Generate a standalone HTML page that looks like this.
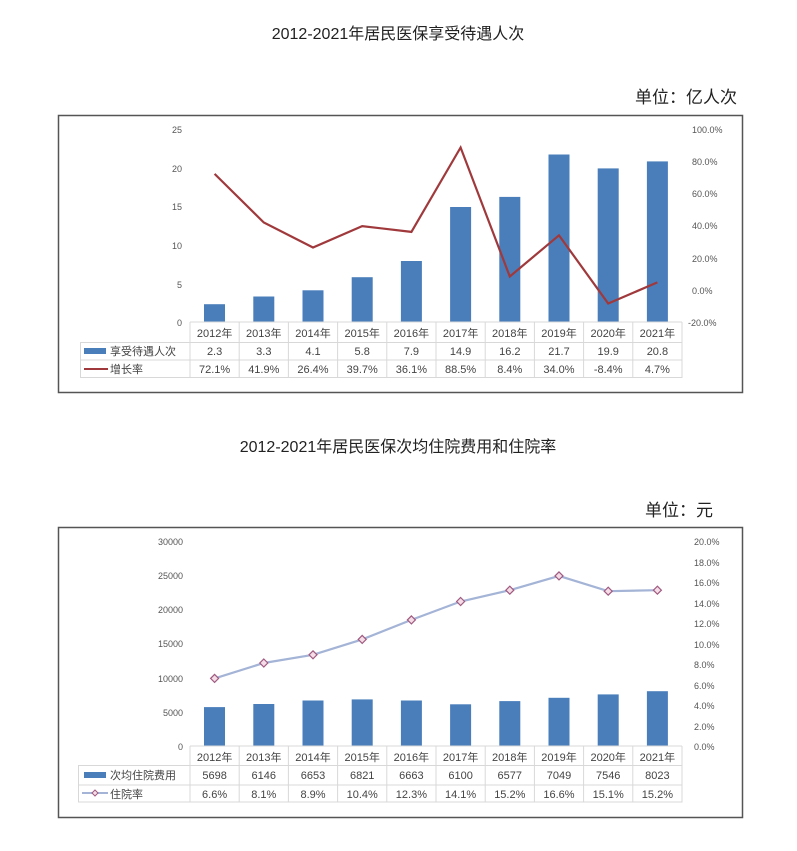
<!DOCTYPE html>
<html><head><meta charset="utf-8"><style>
body{margin:0;background:#fff;}
svg{display:block;font-family:"Liberation Sans","Noto Sans CJK SC",sans-serif;}
</style></head><body>
<svg width="797" height="851" viewBox="0 0 797 851">
<text x="398" y="39" font-size="16" text-anchor="middle" fill="#222">2012-2021年居民医保享受待遇人次</text>
<text x="737" y="103" font-size="17" text-anchor="end" fill="#222">单位：亿人次</text>
<rect x="58.5" y="115.5" width="684" height="277" fill="#fff" stroke="#555" stroke-width="1.5"/>
<g font-size="9" fill="#555" text-anchor="end">
<text x="182" y="133">25</text><text x="182" y="172">20</text><text x="182" y="210">15</text><text x="182" y="249">10</text><text x="182" y="288">5</text><text x="182" y="326">0</text>
</g>
<g font-size="9" fill="#555">
<text x="692" y="133">100.0%</text><text x="692" y="165">80.0%</text><text x="692" y="197">60.0%</text><text x="692" y="229">40.0%</text><text x="692" y="262">20.0%</text><text x="692" y="294">0.0%</text><text x="688" y="326">-20.0%</text>
</g>
<g fill="#4a7ebb">
<rect x="204" y="304.2" width="21" height="17.8"/><rect x="253.3" y="296.5" width="21" height="25.5"/><rect x="302.5" y="290.3" width="21" height="31.7"/><rect x="351.7" y="277.2" width="21" height="44.8"/><rect x="400.9" y="261" width="21" height="61"/><rect x="450.1" y="207" width="21" height="115"/><rect x="499.3" y="196.9" width="21" height="125.1"/><rect x="548.5" y="154.5" width="21" height="167.5"/><rect x="597.7" y="168.4" width="21" height="153.6"/><rect x="646.9" y="161.4" width="21" height="160.6"/>
</g>
<polyline fill="none" stroke="#a0393c" stroke-width="2.2" points="214.6,173.9 263.8,222.5 313,247.5 362.2,226.1 411.4,231.9 460.6,147.5 509.8,276.5 559,235.3 608.2,303.5 657.4,282.4"/>
<g stroke="#d8d8d8" stroke-width="1" fill="none">
<line x1="190" y1="322" x2="682" y2="322"/>
<rect x="80.5" y="342.5" width="601.5" height="35"/>
<line x1="80" y1="360" x2="682" y2="360"/>
<line x1="190" y1="322" x2="190" y2="378"/><line x1="239.2" y1="322" x2="239.2" y2="378"/><line x1="288.4" y1="322" x2="288.4" y2="378"/><line x1="337.6" y1="322" x2="337.6" y2="378"/><line x1="386.8" y1="322" x2="386.8" y2="378"/><line x1="436" y1="322" x2="436" y2="378"/><line x1="485.2" y1="322" x2="485.2" y2="378"/><line x1="534.4" y1="322" x2="534.4" y2="378"/><line x1="583.6" y1="322" x2="583.6" y2="378"/><line x1="632.8" y1="322" x2="632.8" y2="378"/><line x1="682" y1="322" x2="682" y2="378"/>
</g>
<g font-size="11" fill="#444" text-anchor="middle">
<text x="214.6" y="337">2012年</text><text x="263.8" y="337">2013年</text><text x="313" y="337">2014年</text><text x="362.2" y="337">2015年</text><text x="411.4" y="337">2016年</text><text x="460.6" y="337">2017年</text><text x="509.8" y="337">2018年</text><text x="559" y="337">2019年</text><text x="608.2" y="337">2020年</text><text x="657.4" y="337">2021年</text>
<text x="214.6" y="355">2.3</text><text x="263.8" y="355">3.3</text><text x="313" y="355">4.1</text><text x="362.2" y="355">5.8</text><text x="411.4" y="355">7.9</text><text x="460.6" y="355">14.9</text><text x="509.8" y="355">16.2</text><text x="559" y="355">21.7</text><text x="608.2" y="355">19.9</text><text x="657.4" y="355">20.8</text>
<text x="214.6" y="373">72.1%</text><text x="263.8" y="373">41.9%</text><text x="313" y="373">26.4%</text><text x="362.2" y="373">39.7%</text><text x="411.4" y="373">36.1%</text><text x="460.6" y="373">88.5%</text><text x="509.8" y="373">8.4%</text><text x="559" y="373">34.0%</text><text x="608.2" y="373">-8.4%</text><text x="657.4" y="373">4.7%</text>
</g>
<rect x="84" y="348" width="22" height="6" fill="#4a7ebb"/>
<line x1="84" y1="369" x2="108" y2="369" stroke="#a0393c" stroke-width="2"/>
<g font-size="11" fill="#444"><text x="110" y="355">享受待遇人次</text><text x="110" y="373">增长率</text></g>

<text x="398" y="452" font-size="16" text-anchor="middle" fill="#222">2012-2021年居民医保次均住院费用和住院率</text>
<text x="713" y="516" font-size="17" text-anchor="end" fill="#222">单位：元</text>
<rect x="58.5" y="527.5" width="684" height="290" fill="#fff" stroke="#555" stroke-width="1.5"/>
<g font-size="9" fill="#555" text-anchor="end">
<text x="183" y="545">30000</text><text x="183" y="579">25000</text><text x="183" y="613">20000</text><text x="183" y="647">15000</text><text x="183" y="682">10000</text><text x="183" y="716">5000</text><text x="183" y="750">0</text>
</g>
<g font-size="9" fill="#555">
<text x="694" y="545">20.0%</text><text x="694" y="566">18.0%</text><text x="694" y="586">16.0%</text><text x="694" y="607">14.0%</text><text x="694" y="627">12.0%</text><text x="694" y="648">10.0%</text><text x="694" y="668">8.0%</text><text x="694" y="689">6.0%</text><text x="694" y="709">4.0%</text><text x="694" y="730">2.0%</text><text x="694" y="750">0.0%</text>
</g>
<g fill="#4a7ebb">
<rect x="204" y="707.1" width="21" height="38.9"/><rect x="253.3" y="704" width="21" height="42"/><rect x="302.5" y="700.5" width="21" height="45.5"/><rect x="351.7" y="699.4" width="21" height="46.6"/><rect x="400.9" y="700.5" width="21" height="45.5"/><rect x="450.1" y="704.3" width="21" height="41.7"/><rect x="499.3" y="701.1" width="21" height="44.9"/><rect x="548.5" y="697.8" width="21" height="48.2"/><rect x="597.7" y="694.4" width="21" height="51.6"/><rect x="646.9" y="691.2" width="21" height="54.8"/>
</g>
<polyline fill="none" stroke="#a4b4d6" stroke-width="2.2" points="214.6,678.4 263.8,663 313,654.8 362.2,639.4 411.4,619.9 460.6,601.5 509.8,590.2 559,575.9 608.2,591.2 657.4,590.2"/>
<g fill="#f4dde6" stroke="#a05a80" stroke-width="1.2">
<path d="M214.6 674.4l4 4-4 4-4-4z"/><path d="M263.8 659l4 4-4 4-4-4z"/><path d="M313 650.8l4 4-4 4-4-4z"/><path d="M362.2 635.4l4 4-4 4-4-4z"/><path d="M411.4 615.9l4 4-4 4-4-4z"/><path d="M460.6 597.5l4 4-4 4-4-4z"/><path d="M509.8 586.2l4 4-4 4-4-4z"/><path d="M559 571.9l4 4-4 4-4-4z"/><path d="M608.2 587.2l4 4-4 4-4-4z"/><path d="M657.4 586.2l4 4-4 4-4-4z"/>
</g>
<g stroke="#d8d8d8" stroke-width="1" fill="none">
<line x1="190" y1="746" x2="682" y2="746"/>
<rect x="78.5" y="765.5" width="603.5" height="36.5"/>
<line x1="78" y1="785" x2="682" y2="785"/>
<line x1="190" y1="746" x2="190" y2="802"/><line x1="239.2" y1="746" x2="239.2" y2="802"/><line x1="288.4" y1="746" x2="288.4" y2="802"/><line x1="337.6" y1="746" x2="337.6" y2="802"/><line x1="386.8" y1="746" x2="386.8" y2="802"/><line x1="436" y1="746" x2="436" y2="802"/><line x1="485.2" y1="746" x2="485.2" y2="802"/><line x1="534.4" y1="746" x2="534.4" y2="802"/><line x1="583.6" y1="746" x2="583.6" y2="802"/><line x1="632.8" y1="746" x2="632.8" y2="802"/><line x1="682" y1="746" x2="682" y2="802"/>
</g>
<g font-size="11" fill="#444" text-anchor="middle">
<text x="214.6" y="761">2012年</text><text x="263.8" y="761">2013年</text><text x="313" y="761">2014年</text><text x="362.2" y="761">2015年</text><text x="411.4" y="761">2016年</text><text x="460.6" y="761">2017年</text><text x="509.8" y="761">2018年</text><text x="559" y="761">2019年</text><text x="608.2" y="761">2020年</text><text x="657.4" y="761">2021年</text>
<text x="214.6" y="779">5698</text><text x="263.8" y="779">6146</text><text x="313" y="779">6653</text><text x="362.2" y="779">6821</text><text x="411.4" y="779">6663</text><text x="460.6" y="779">6100</text><text x="509.8" y="779">6577</text><text x="559" y="779">7049</text><text x="608.2" y="779">7546</text><text x="657.4" y="779">8023</text>
<text x="214.6" y="798">6.6%</text><text x="263.8" y="798">8.1%</text><text x="313" y="798">8.9%</text><text x="362.2" y="798">10.4%</text><text x="411.4" y="798">12.3%</text><text x="460.6" y="798">14.1%</text><text x="509.8" y="798">15.2%</text><text x="559" y="798">16.6%</text><text x="608.2" y="798">15.1%</text><text x="657.4" y="798">15.2%</text>
</g>
<rect x="84" y="772" width="22" height="6" fill="#4a7ebb"/>
<line x1="82" y1="793" x2="108" y2="793" stroke="#a4b4d6" stroke-width="2"/>
<path d="M95 790l3 3-3 3-3-3z" fill="#f4dde6" stroke="#a05a80"/>
<g font-size="11" fill="#444"><text x="110" y="779">次均住院费用</text><text x="110" y="798">住院率</text></g>
</svg>
</body></html>
